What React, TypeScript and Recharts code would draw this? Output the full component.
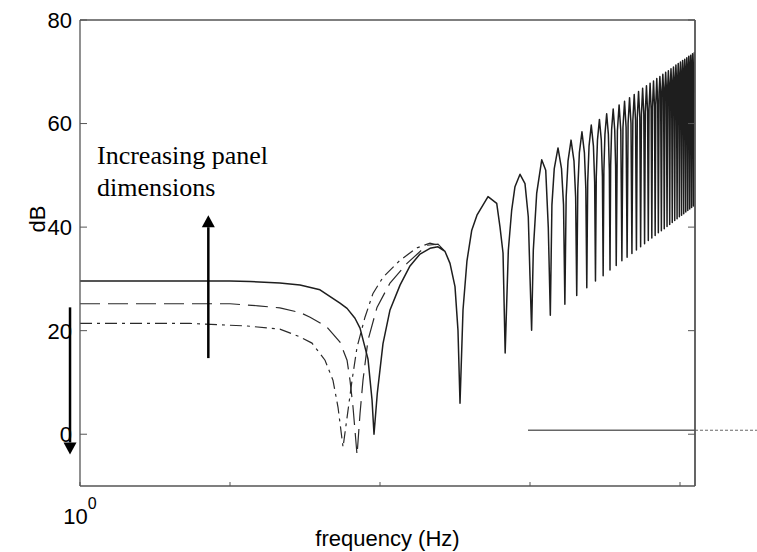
import { LineChart, Line, XAxis, YAxis, ReferenceLine } from 'recharts';

const AXIS = '#555';
const INK = '#1e1e1e';
const SANS = '"Liberation Sans", Arial, Helvetica, sans-serif';
const SERIF = '"Liberation Serif", "Times New Roman", serif';

// low-frequency region, one pair of arrays per panel size (Hz, dB)
const solidLowHz = [1, 10, 13.6, 21.5, 29.3, 39.8, 54.1, 60.3, 68.1, 73.6, 83.2, 88.5, 91.2, 96, 104.7, 116.6, 136, 158.5, 184.8, 215.4, 243.6, 271.3, 292.9, 316.2, 331.1];
const solidLowDb = [29.6, 29.6, 29.5, 29.2, 28.8, 27.9, 25.3, 24.3, 22.4, 20.5, 14.5, 6.6, 0, 8, 17.5, 24, 28.8, 32.5, 34.8, 35.9, 36.2, 35.3, 33, 28.5, 20];

const dashedHz = [1, 10, 15.4, 21.5, 29.3, 34.2, 44.3, 54.1, 60.3, 63.1, 66.1, 70.3, 73.6, 77, 83.2, 95.5, 116.6, 151.4, 205.7, 243.6, 271.3];
const dashedDb = [25.2, 25.2, 24.8, 24.4, 23.5, 22.6, 20.7, 17.8, 14.3, 10.4, 5.2, -4, 4, 10.4, 18.2, 24.5, 29.2, 33, 36.5, 36.7, 35.3];

const dashDotHz = [1, 5.4, 13, 21.5, 29.3, 35.2, 43, 48.6, 52.5, 56.7, 61.2, 65.1, 70.3, 79.4, 89.8, 104.7, 136, 176.5, 215.4, 243.6, 271.3];
const dashDotDb = [21.4, 21.4, 20.9, 20.3, 18.8, 17.6, 14.3, 10.4, 5.2, -2.5, 4.6, 10.4, 16.8, 22.6, 27.2, 30.3, 33.6, 36, 36.9, 36.5, 35.3];

// high-frequency lobes of the common curve
const nullHz = [341.5, 683, 1025, 1366, 1708, 2049, 2391, 2732, 3074, 3415, 3757, 4098, 4440, 4781, 5123, 5464, 5806, 6147, 6489, 6830, 7172, 7513, 7855, 8196, 8538, 8879, 9221, 9562, 9904, 10245, 10587, 10928, 11270, 11611, 11953, 12294];
const nullDb = [6, 15.7, 20.1, 23, 25.1, 26.8, 28.3, 29.6, 30.6, 31.7, 32.6, 33.5, 34.2, 34.9, 35.6, 36.2, 36.8, 37.4, 37.9, 38.4, 38.9, 39.3, 39.7, 40.1, 40.5, 40.9, 41.3, 41.6, 42, 42.3, 42.6, 42.9, 43.2, 43.5, 43.8, 44.1];

const peakHz = [525, 858, 1197, 1537, 1878, 2220, 2561, 2903, 3244, 3586, 3927, 4269, 4610, 4952, 5293, 5635, 5976, 6318, 6659, 7001, 7342, 7684, 8025, 8367, 8708, 9050, 9391, 9733, 10074, 10416, 10757, 11099, 11440, 11782, 12123, 12465];
const peakDb = [45.9, 50.2, 53, 55.3, 56.8, 58.4, 59.7, 60.8, 61.9, 62.8, 63.6, 64.3, 65, 65.6, 66.2, 66.8, 67.3, 67.8, 68.2, 68.7, 69.1, 69.5, 69.9, 70.2, 70.6, 70.9, 71.3, 71.6, 71.9, 72.2, 72.4, 72.7, 73, 73.2, 73.5, 73.7];

// flanks of each lobe, on either side of its peak
const shoulderHz = [
  357.6, 380, 409, 443, 600, 631, 661,
  717, 755, 794, 926, 974, 1000,
  1052, 1108, 1273, 1324,
  1400, 1451, 1622, 1673,
  1742, 1793, 1964, 2015,
  2083, 2134, 2305, 2356,
  2425, 2476, 2647, 2698,
  2766, 2817, 2988, 3039,
  3108, 3159, 3330, 3381,
  3449, 3500, 3671, 3722,
  3825, 4030, 4166, 4371, 4508, 4713, 4849, 5054, 5191, 5396,
  5532, 5737, 5874, 6079, 6215, 6420, 6557, 6762, 6898, 7103,
  7257, 7428, 7599, 7770, 7940, 8111, 8282, 8453, 8623, 8794,
  8965, 9136, 9306, 9477, 9648, 9819, 9989, 10160, 10331, 10501,
  10672, 10843, 11014, 11184, 11355, 11526, 11697, 11867, 12038, 12209,
  12589,
];
const shoulderDb = [
  24, 33.5, 39.4, 42.3, 44.6, 40, 35,
  35.5, 43.3, 47.8, 48.4, 42, 30.4,
  35.5, 46.5, 51, 40,
  44.3, 51.3, 51.3, 44.3,
  45.8, 52.8, 52.8, 45.8,
  47.4, 54.4, 54.4, 47.4,
  48.7, 55.7, 55.7, 48.7,
  49.8, 56.8, 56.8, 49.8,
  50.9, 57.9, 57.9, 50.9,
  51.8, 58.8, 58.8, 51.8,
  58.6, 58.6, 59.3, 59.3, 60, 60, 60.6, 60.6, 61.2, 61.2,
  61.8, 61.8, 62.3, 62.3, 62.8, 62.8, 63.2, 63.2, 63.7, 63.7,
  66.1, 66.1, 66.5, 66.5, 66.9, 66.9, 67.2, 67.2, 67.6, 67.6,
  67.9, 67.9, 68.3, 68.3, 68.6, 68.6, 68.9, 68.9, 69.2, 69.2,
  69.4, 69.4, 69.7, 69.7, 70, 70, 70.2, 70.2, 70.5, 70.5,
  66,
];

const xTicks = [1, 10, 100, 1000, 10000];
const yTicks = [0, 20, 40, 60, 80];

type Pt = { hz: number; db: number };
const toPoints = (hz: number[], db: number[]): Pt[] => hz.map((f, i) => ({ hz: f, db: db[i] }));

const solidData = [
  ...toPoints(solidLowHz, solidLowDb),
  ...toPoints(nullHz, nullDb),
  ...toPoints(peakHz, peakDb),
  ...toPoints(shoulderHz, shoulderDb),
].sort((a, b) => a.hz - b.hz);
const dashedData = toPoints(dashedHz, dashedDb);
const dashDotData = toPoints(dashDotHz, dashDotDb);

const LeftTick = ({ x, y, payload }: any) => (
  <g>
    <line x1={x + 8} x2={x + 15} y1={y} y2={y} stroke={AXIS} />
    <text x={x} y={y} dy="0.36em" textAnchor="end" fontSize={22} fontFamily={SANS} fill="#000">
      {payload.value}
    </text>
  </g>
);

const RightTick = ({ x, y }: any) => <line x1={x} x2={x - 7} y1={y} y2={y} stroke={AXIS} />;

const TopTick = ({ x, y }: any) => <line x1={x} x2={x} y1={y} y2={y + 4} stroke={AXIS} />;

const BottomTick = ({ x, y, payload }: any) => (
  <g>
    <line x1={x} x2={x} y1={y} y2={y - 4} stroke={AXIS} />
    {payload.value === 1 && (
      <text x={x} y={y + 38} textAnchor="middle" fontSize={22} fontFamily={SANS} fill="#000">
        10
        <tspan dy={-15} fontSize={16}>0</tspan>
      </text>
    )}
  </g>
);

const Arrow = ({ x1, y1, x2, y2 }: any) => {
  const dir = y2 > y1 ? 1 : -1;
  const base = y2 - dir * 12;
  return (
    <g>
      <line x1={x1} y1={y1} x2={x2} y2={base} stroke="#000" strokeWidth={2.5} />
      <polygon points={`${x2},${y2} ${x2 - 6.5},${base} ${x2 + 6.5},${base}`} fill="#000" />
    </g>
  );
};

export default function App() {
  return (
    <div style={{ position: 'absolute', left: 0, top: 0, width: 757, height: 552, background: '#fff' }}>
      <LineChart width={757} height={552} margin={{ top: 0, right: 0, bottom: 0, left: 0 }}>
        <XAxis
          xAxisId="bottom"
          dataKey="hz"
          type="number"
          scale="log"
          domain={[1, 12589]}
          allowDataOverflow
          ticks={xTicks}
          height={66}
          tickSize={0}
          tickMargin={0}
          tickLine={false}
          axisLine={{ stroke: AXIS, strokeWidth: 1.3 }}
          tick={BottomTick}
          label={{
            value: 'frequency (Hz)',
            position: 'insideBottom',
            offset: 6,
            fontSize: 22,
            fontFamily: SANS,
            fill: '#000',
          }}
        />
        <XAxis
          xAxisId="top"
          orientation="top"
          type="number"
          scale="log"
          domain={[1, 12589]}
          allowDataOverflow
          ticks={xTicks}
          height={20}
          tickSize={0}
          tickMargin={0}
          tickLine={false}
          axisLine={{ stroke: AXIS, strokeWidth: 1.3 }}
          tick={TopTick}
        />
        <YAxis
          yAxisId="left"
          type="number"
          domain={[-10, 80]}
          allowDataOverflow
          ticks={yTicks}
          width={80}
          tickSize={0}
          tickMargin={8}
          tickLine={false}
          axisLine={{ stroke: AXIS, strokeWidth: 1.3 }}
          tick={LeftTick}
        />
        <YAxis
          yAxisId="right"
          orientation="right"
          type="number"
          domain={[-10, 80]}
          allowDataOverflow
          ticks={yTicks}
          width={62}
          tickSize={0}
          tickMargin={0}
          tickLine={false}
          axisLine={{ stroke: AXIS, strokeWidth: 1.8 }}
          tick={RightTick}
        />

        <Line
          xAxisId="bottom"
          yAxisId="left"
          data={dashDotData}
          dataKey="db"
          type="linear"
          stroke="#2a2a2a"
          strokeWidth={1.2}
          strokeDasharray="12 5 3 5"
          dot={false}
          isAnimationActive={false}
        />
        <Line
          xAxisId="bottom"
          yAxisId="left"
          data={dashedData}
          dataKey="db"
          type="linear"
          stroke="#2a2a2a"
          strokeWidth={1.2}
          strokeDasharray="20 8"
          dot={false}
          isAnimationActive={false}
        />
        <Line
          xAxisId="bottom"
          yAxisId="left"
          data={solidData}
          dataKey="db"
          type="linear"
          stroke={INK}
          strokeWidth={1.5}
          strokeLinejoin="round"
          dot={false}
          isAnimationActive={false}
        />

        {/* stray level line running off the right edge */}
        <ReferenceLine
          xAxisId="bottom"
          yAxisId="left"
          segment={[{ x: 970, y: 0.77 }, { x: 12589, y: 0.77 }]}
          stroke="#666"
          strokeWidth={1.6}
        />
        <ReferenceLine
          xAxisId="bottom"
          yAxisId="left"
          segment={[{ x: 12589, y: 0.77 }, { x: 32600, y: 0.77 }]}
          ifOverflow="visible"
          stroke="#666"
          strokeWidth={1}
          strokeDasharray="3 2"
        />

        {/* annotation arrows */}
        <ReferenceLine
          xAxisId="bottom"
          yAxisId="left"
          segment={[{ x: 7.17, y: 14.7 }, { x: 7.17, y: 42.3 }]}
          ifOverflow="visible"
          shape={Arrow}
        />
        <ReferenceLine
          xAxisId="bottom"
          yAxisId="left"
          segment={[{ x: 0.858, y: 24.5 }, { x: 0.858, y: -3.9 }]}
          ifOverflow="visible"
          shape={Arrow}
        />
      </LineChart>

      <svg
        width={757}
        height={552}
        style={{ position: 'absolute', left: 0, top: 0, pointerEvents: 'none' }}
      >
        <text
          transform="translate(45,219) rotate(-90)"
          textAnchor="middle"
          fontSize={22}
          fontFamily={SANS}
          fill="#000"
        >
          dB
        </text>
        <text x={97} y={164} fontSize={26} fontFamily={SERIF} fill="#000">
          Increasing panel
        </text>
        <text x={97} y={196} fontSize={26} fontFamily={SERIF} fill="#000">
          dimensions
        </text>
      </svg>
    </div>
  );
}
